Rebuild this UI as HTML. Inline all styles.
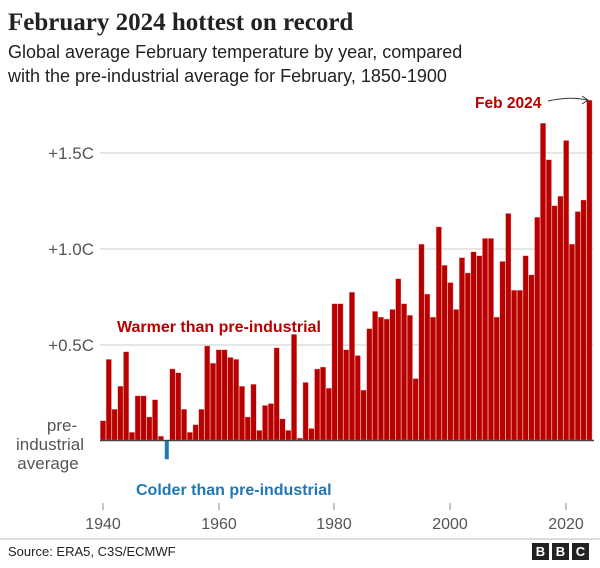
<!DOCTYPE html>
<html><head><meta charset="utf-8"><style>
body{margin:0;background:#fff;width:600px;height:563px;overflow:hidden;font-family:"Liberation Sans",sans-serif}
</style></head><body>
<svg id="s" width="600" height="563" xmlns="http://www.w3.org/2000/svg" font-family="Liberation Sans, sans-serif">
<text x="8" y="30" font-family="Liberation Serif, serif" font-weight="bold" font-size="25" fill="#222">February 2024 hottest on record</text>
<text x="8" y="58" font-size="18" fill="#222">Global average February temperature by year, compared</text>
<text x="8" y="82" font-size="18" fill="#222">with the pre-industrial average for February, 1850-1900</text>
<g stroke="#d6d6d6" stroke-width="1.2">
<line x1="100" x2="594" y1="153" y2="153"/><line x1="100" x2="594" y1="249" y2="249"/><line x1="100" x2="594" y1="345" y2="345"/>
</g>
<g font-size="17" fill="#555" text-anchor="end">
<text x="94" y="159">+1.5C</text><text x="94" y="255">+1.0C</text><text x="94" y="351">+0.5C</text>
</g>
<g font-size="17" fill="#555" text-anchor="middle">
<text x="62" y="431">pre-</text><text x="50" y="450">industrial</text><text x="48" y="469">average</text>
</g>
<g id="bars"></g>
<line x1="100" x2="594" y1="440.5" y2="440.5" stroke="#444" stroke-width="1.5"/>
<text x="117" y="332" font-size="16" font-weight="bold" fill="#b80000">Warmer than pre-industrial</text>
<text x="136" y="495" font-size="16" font-weight="bold" fill="#1f77b4">Colder than pre-industrial</text>
<text x="475" y="108" font-size="15.5" font-weight="bold" fill="#b80000">Feb 2024</text>
<path d="M548 101 Q570 96 587 100" fill="none" stroke="#333" stroke-width="1"/>
<path d="M582 96 L588 100 L582 104" fill="none" stroke="#333" stroke-width="1"/>
<g stroke="#888"><line x1="103" x2="103" y1="503" y2="510"/><line x1="219" x2="219" y1="503" y2="510"/><line x1="334" x2="334" y1="503" y2="510"/><line x1="450" x2="450" y1="503" y2="510"/><line x1="566" x2="566" y1="503" y2="510"/></g>
<g font-size="16" fill="#555" text-anchor="middle">
<text x="103" y="529">1940</text><text x="219" y="529">1960</text><text x="334" y="529">1980</text><text x="450" y="529">2000</text><text x="566" y="529">2020</text>
</g>
<line x1="0" x2="600" y1="539" y2="539" stroke="#bbb"/>
<text x="8" y="556" font-size="13" fill="#222">Source: ERA5, C3S/ECMWF</text>
<g font-size="13" font-weight="bold" fill="#fff" text-anchor="middle">
<rect x="532" y="543" width="17" height="17" fill="#222"/><text x="540.5" y="556">B</text>
<rect x="552" y="543" width="17" height="17" fill="#222"/><text x="560.5" y="556">B</text>
<rect x="572" y="543" width="17" height="17" fill="#222"/><text x="580.5" y="556">C</text>
</g>
</svg>
<script>
var v=[0.10,0.42,0.16,0.28,0.46,0.04,0.23,0.23,0.12,0.21,0.02,-0.10,0.37,0.35,0.16,0.04,0.08,0.16,0.49,0.40,0.47,0.47,0.43,0.42,0.28,0.12,0.29,0.05,0.18,0.19,0.48,0.11,0.05,0.55,0.01,0.30,0.06,0.37,0.38,0.27,0.71,0.71,0.47,0.77,0.44,0.26,0.58,0.67,0.64,0.63,0.68,0.84,0.71,0.65,0.32,1.02,0.76,0.64,1.11,0.91,0.82,0.68,0.95,0.87,0.98,0.96,1.05,1.05,0.64,0.93,1.18,0.78,0.78,0.96,0.86,1.16,1.65,1.46,1.22,1.27,1.56,1.02,1.19,1.25,1.77];
var g=document.getElementById('bars'),h='';
for(var i=0;i<v.length;i++){var x=100.3+i*5.79,b=440,p=v[i]*192;
if(p>=0)h+='<rect x="'+x+'" y="'+(b-p)+'" width="5.4" height="'+p+'" fill="#b80000" stroke="#f2b0b0" stroke-width="0.4"/>';
else h+='<rect x="'+(x+0.8)+'" y="'+b+'" width="4" height="'+(-p)+'" fill="#1f77b4"/>';}
g.innerHTML=h;
</script>
</body></html>
